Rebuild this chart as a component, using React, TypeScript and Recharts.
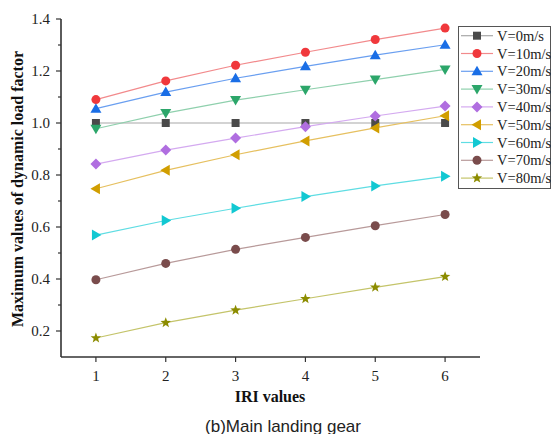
import React from 'react';
import { LineChart, Line, XAxis, YAxis } from 'recharts';

// IRI categories on the x axis
const iri = [1, 2, 3, 4, 5, 6];

// Maximum dynamic load factor per speed
const v0 = [1.0, 1.0, 1.0, 1.0, 1.0, 1.0];
const v10 = [1.09, 1.162, 1.222, 1.272, 1.321, 1.365];
const v20 = [1.055, 1.119, 1.172, 1.218, 1.261, 1.301];
const v30 = [0.978, 1.038, 1.088, 1.128, 1.167, 1.206];
const v40 = [0.842, 0.896, 0.942, 0.986, 1.027, 1.065];
const v50 = [0.747, 0.818, 0.878, 0.931, 0.981, 1.028];
const v60 = [0.569, 0.625, 0.672, 0.717, 0.758, 0.795];
const v70 = [0.397, 0.46, 0.514, 0.56, 0.605, 0.648];
const v80 = [0.173, 0.232, 0.28, 0.324, 0.368, 0.409];

const seriesNames = ['V=0m/s', 'V=10m/s', 'V=20m/s', 'V=30m/s', 'V=40m/s', 'V=50m/s', 'V=60m/s', 'V=70m/s', 'V=80m/s'];
const seriesValues = [v0, v10, v20, v30, v40, v50, v60, v70, v80];

const yTicks = [0.2, 0.3, 0.4, 0.5, 0.6, 0.7, 0.8, 0.9, 1.0, 1.1, 1.2, 1.3, 1.4];
const xTicks = [1, 2, 3, 4, 5, 6];

type Shape = 'square' | 'circle' | 'up' | 'down' | 'diamond' | 'left' | 'right' | 'star';

const styles: { marker: string; line: string; shape: Shape }[] = [
  { marker: '#4a4a4a', line: '#a8a8a8', shape: 'square' },
  { marker: '#f0383c', line: '#f28a8c', shape: 'circle' },
  { marker: '#1a6ee6', line: '#6a9ff0', shape: 'up' },
  { marker: '#2ca66a', line: '#8fd0ad', shape: 'down' },
  { marker: '#b06ee0', line: '#d4aaf0', shape: 'diamond' },
  { marker: '#d19e00', line: '#e6c060', shape: 'left' },
  { marker: '#12c8d2', line: '#5fdde3', shape: 'right' },
  { marker: '#7a4c4c', line: '#b89a9a', shape: 'circle' },
  { marker: '#8c8c00', line: '#c4c46a', shape: 'star' },
];

const keys = seriesNames.map((_, i) => 's' + i);

const data = iri.map((x, j) => {
  const row: Record<string, number> = { iri: x };
  seriesValues.forEach((vals, i) => {
    row[keys[i]] = vals[j];
  });
  return row;
});

function Marker({ cx, cy, shape, fill }: { cx: number; cy: number; shape: Shape; fill: string }) {
  if (cx == null || cy == null) return null;
  switch (shape) {
    case 'square':
      return <rect x={cx - 4} y={cy - 4} width={8} height={8} fill={fill} />;
    case 'circle':
      return <circle cx={cx} cy={cy} r={4.5} fill={fill} />;
    case 'up':
      return <polygon points={`${cx},${cy - 5.5} ${cx + 5.5},${cy + 4} ${cx - 5.5},${cy + 4}`} fill={fill} />;
    case 'down':
      return <polygon points={`${cx},${cy + 5.5} ${cx + 5.5},${cy - 4} ${cx - 5.5},${cy - 4}`} fill={fill} />;
    case 'diamond':
      return <polygon points={`${cx},${cy - 5.5} ${cx + 5.5},${cy} ${cx},${cy + 5.5} ${cx - 5.5},${cy}`} fill={fill} />;
    case 'left':
      return <polygon points={`${cx - 5.5},${cy} ${cx + 4},${cy - 5.5} ${cx + 4},${cy + 5.5}`} fill={fill} />;
    case 'right':
      return <polygon points={`${cx + 5.5},${cy} ${cx - 4},${cy - 5.5} ${cx - 4},${cy + 5.5}`} fill={fill} />;
    case 'star': {
      const pts: string[] = [];
      for (let k = 0; k < 10; k++) {
        const r = k % 2 === 0 ? 5.5 : 2.3;
        const a = -Math.PI / 2 + (k * Math.PI) / 5;
        pts.push(`${cx + r * Math.cos(a)},${cy + r * Math.sin(a)}`);
      }
      return <polygon points={pts.join(' ')} fill={fill} />;
    }
  }
  return null;
}

const serif = '"Liberation Serif", "Times New Roman", serif';

function YTick(props: any) {
  const { x, y, payload } = props;
  const v = payload.value as number;
  const major = Math.round(v * 10) % 2 === 0;
  return (
    <g>
      <line x1={x - (major ? 5 : 3)} y1={y} x2={x} y2={y} stroke="#333" strokeWidth={1.2} />
      {major && (
        <text x={x - 11} y={y} dy="0.35em" textAnchor="end" fontFamily={serif} fontSize={15} fill="#222">
          {v.toFixed(1)}
        </text>
      )}
    </g>
  );
}

function XTick(props: any) {
  const { x, y, payload } = props;
  return (
    <g>
      <line x1={x} y1={y} x2={x} y2={y + 5} stroke="#333" strokeWidth={1.2} />
      <text x={x} y={y + 24} textAnchor="middle" fontFamily={serif} fontSize={15} fill="#222">
        {payload.value}
      </text>
    </g>
  );
}

// Framed legend drawn at the top right, partly over the plot edge
function LegendBox({ x, y }: { x: number; y: number }) {
  const rowH = 17.8;
  return (
    <g transform={`translate(${x},${y})`}>
      <rect x={0.5} y={0.5} width={92} height={162} fill="#fff" stroke="#555" strokeWidth={1} />
      {seriesNames.map((name, i) => {
        const cy = 9.7 + i * rowH;
        const s = styles[i];
        return (
          <g key={name}>
            <line x1={3} y1={cy} x2={35} y2={cy} stroke={s.line} strokeWidth={1.2} />
            <Marker cx={19} cy={cy} shape={s.shape} fill={s.marker} />
            <text x={39} y={cy} dy="0.35em" fontFamily={serif} fontSize={14.5} fill="#222">
              {name}
            </text>
          </g>
        );
      })}
    </g>
  );
}

export default function App() {
  return (
    <div style={{ position: 'absolute', left: 0, top: 0, width: 551, height: 434, background: '#fff' }}>
      <LineChart
        width={551}
        height={434}
        data={data}
        margin={{ top: 19, right: 71, bottom: 47, left: 11 }}
      >
        <XAxis
          dataKey="iri"
          type="number"
          domain={[0.5, 6.5]}
          allowDataOverflow
          ticks={xTicks}
          height={30}
          tickSize={0}
          tickMargin={0}
          tickLine={false}
          tick={<XTick />}
          axisLine={{ stroke: '#333', strokeWidth: 1.6 }}
          interval={0}
        />
        <YAxis
          type="number"
          domain={[0.1, 1.4]}
          allowDataOverflow
          ticks={yTicks}
          width={50}
          tickSize={0}
          tickMargin={0}
          tickLine={false}
          tick={<YTick />}
          axisLine={{ stroke: '#333', strokeWidth: 1.6 }}
          interval={0}
        />
        {keys.map((k, i) => (
          <Line
            key={k}
            dataKey={k}
            name={seriesNames[i]}
            stroke={styles[i].line}
            strokeWidth={1.2}
            isAnimationActive={false}
            dot={(p: any) => (
              <Marker key={`${k}-${p.index}`} cx={p.cx} cy={p.cy} shape={styles[i].shape} fill={styles[i].marker} />
            )}
            activeDot={false}
          />
        ))}
        <LegendBox x={458} y={26} />
        <text
          x={17}
          y={189}
          transform="rotate(-90 17 189)"
          textAnchor="middle"
          dominantBaseline="central"
          fontFamily={serif}
          fontWeight="bold"
          fontSize={16}
          fill="#111"
        >
          Maximum values of dynamic load factor
        </text>
        <text
          x={270}
          y={396}
          textAnchor="middle"
          dominantBaseline="central"
          fontFamily={serif}
          fontWeight="bold"
          fontSize={16}
          fill="#111"
        >
          IRI values
        </text>
        <text
          x={283}
          y={426}
          textAnchor="middle"
          dominantBaseline="central"
          fontFamily='"Liberation Sans", Arial, sans-serif'
          fontSize={17}
          fill="#222"
        >
          (b)Main landing gear
        </text>
      </LineChart>
    </div>
  );
}
